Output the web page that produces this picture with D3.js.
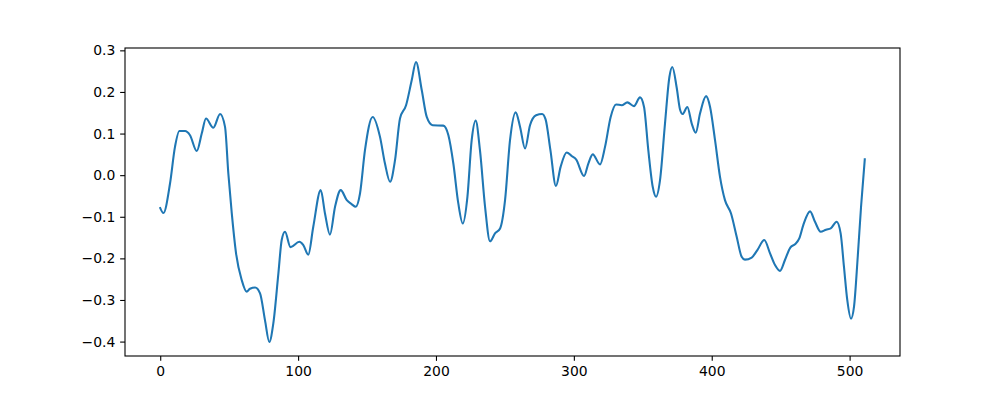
<!DOCTYPE html>
<html><head><meta charset="utf-8">
<script src="https://cdn.jsdelivr.net/npm/d3@7"></script>
<style>body{margin:0;background:#fff}svg{display:block}</style>
</head><body><svg id="c" width="1000" height="400"></svg>
<script>
const xs = [0,2.3,7.1,10.7,13.9,18,21.6,26.5,30.1,33.2,38.5,43.4,47,49.4,51.9,55,59.1,62.7,65.1,68.8,72.4,76,79.1,82,85.7,88.1,90.5,94.5,100.9,103.8,107.4,111,116.4,119.5,123.1,126.8,130.9,135.3,138.9,141.8,144.9,148.5,154.1,159.4,163,166.7,170.3,173.9,178.3,182.4,185.5,189.7,193.3,197.6,205.3,209,212.6,216.2,219.4,222.8,225.9,228.8,231.9,235.6,239.2,242.8,246.5,250.1,253.7,257.8,261,264.6,268.2,272.6,277,279.5,283,287,290.4,294.8,298.4,301.6,307.4,310.5,313.7,319,322.6,326.7,330.6,334.7,338.8,343.6,348,350.9,354,357.2,359.6,362.5,366.1,369.3,371.4,374.6,377,378.9,382.3,385.5,388.4,391.5,395.9,398.8,402.4,406,409.6,414,418.1,421.7,424.1,429,433.1,438.1,442.3,445.9,449.5,453.1,457,460.4,463.5,466.4,471.3,474.9,479,482.9,486.3,490.6,493.5,495.9,498.3,501,503.2,505.9,508.3,511];
const ys = [-0.079,-0.091,-0.02,0.068,0.106,0.106,0.096,0.058,0.10,0.136,0.114,0.147,0.116,0.004,-0.092,-0.188,-0.252,-0.28,-0.273,-0.27,-0.284,-0.349,-0.401,-0.357,-0.236,-0.156,-0.136,-0.173,-0.160,-0.168,-0.191,-0.124,-0.036,-0.092,-0.143,-0.076,-0.036,-0.06,-0.07,-0.076,-0.044,0.06,0.14,0.092,0.028,-0.016,0.036,0.136,0.168,0.228,0.272,0.204,0.14,0.12,0.119,0.096,0.028,-0.068,-0.116,-0.052,0.084,0.131,0.06,-0.076,-0.159,-0.14,-0.128,-0.06,0.084,0.151,0.116,0.064,0.12,0.144,0.147,0.134,0.06,-0.026,0.02,0.0545,0.046,0.038,-0.002,0.028,0.05,0.026,0.068,0.14,0.17,0.168,0.175,0.166,0.187,0.164,0.06,-0.028,-0.052,-0.012,0.124,0.236,0.26,0.21,0.158,0.147,0.164,0.124,0.102,0.148,0.19,0.164,0.084,-0.004,-0.06,-0.092,-0.148,-0.196,-0.203,-0.198,-0.18,-0.156,-0.188,-0.216,-0.23,-0.204,-0.174,-0.166,-0.152,-0.12,-0.087,-0.112,-0.136,-0.131,-0.128,-0.112,-0.14,-0.22,-0.30,-0.345,-0.316,-0.196,-0.076,0.038];
const xTicks = [0,100,200,300,400,500];
const yTicks = [-0.4,-0.3,-0.2,-0.1,0.0,0.1,0.2,0.3];
const yTickLabels = ["−0.4","−0.3","−0.2","−0.1","0.0","0.1","0.2","0.3"];

const L=125,R=900,T=48,B=356;
const svg=d3.select("#c");
const xmin=0,xmax=511, xm=(xmax-xmin)*0.05;
const ymin=d3.min(ys), ymax=d3.max(ys), ym=(ymax-ymin)*0.05;
const x=d3.scaleLinear().domain([xmin-xm,xmax+xm]).range([L,R]);
const y=d3.scaleLinear().domain([ymin-ym,ymax+ym]).range([B,T]);

const data=xs.map((v,i)=>[v,ys[i]]);
svg.append("path").datum(data)
  .attr("fill","none").attr("stroke","#1f77b4").attr("stroke-width",2.08)
  .attr("stroke-linejoin","round").attr("stroke-linecap","square")
  .attr("d",d3.line().x(d=>x(d[0])).y(d=>y(d[1])).curve(d3.curveMonotoneX));

const font="DejaVu Sans";
const gx=svg.append("g").attr("transform",`translate(0,${B})`)
  .call(d3.axisBottom(x).tickValues(xTicks).tickFormat(d3.format("d")).tickSize(4.86).tickPadding(4.86).tickSizeOuter(0));
const gy=svg.append("g").attr("transform",`translate(${L},0)`)
  .call(d3.axisLeft(y).tickValues(yTicks).tickFormat((d,i)=>yTickLabels[i]).tickSize(4.86).tickPadding(4.86).tickSizeOuter(0));
[gx,gy].forEach(g=>{
  g.select(".domain").remove();
  g.selectAll("line").attr("stroke","#000").attr("stroke-width",1.1);
  g.selectAll("text").attr("font-family",font).attr("font-size","13.9px").attr("fill","#000");
});
svg.append("rect").attr("x",L).attr("y",T).attr("width",R-L).attr("height",B-T)
  .attr("fill","none").attr("stroke","#000").attr("stroke-width",1.1);
</script></body></html>
